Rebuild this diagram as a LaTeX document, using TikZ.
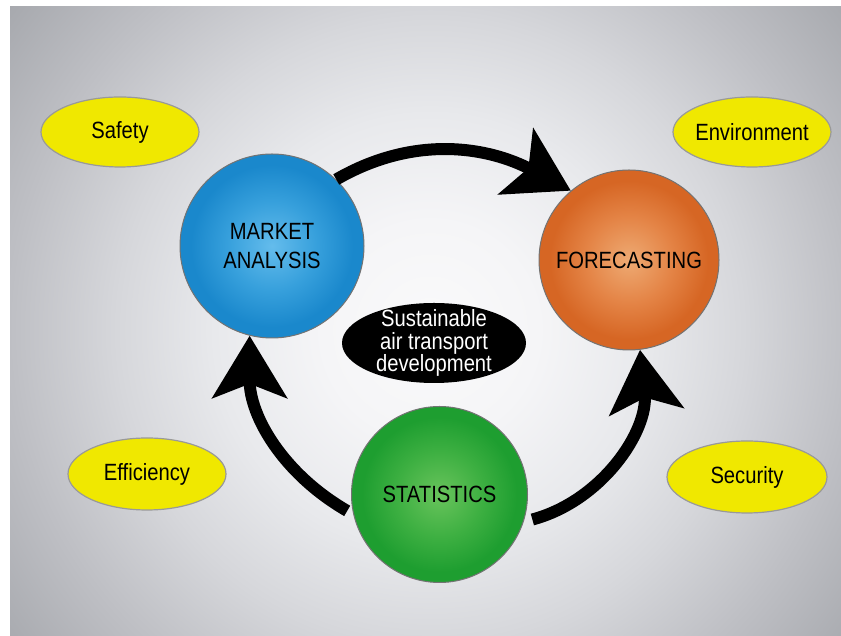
\documentclass[tikz,border=0pt]{standalone}
\usepackage{fontspec}
\setmainfont{Liberation Sans}[FakeStretch=0.86]
\usepackage{tikz}
\usetikzlibrary{shapes.geometric,arrows.meta,backgrounds}
\definecolor{bgA}{RGB}{250,250,251}
\definecolor{bgB}{RGB}{245,245,247}
\definecolor{bgC}{RGB}{232,233,236}
\definecolor{bgD}{RGB}{214,215,219}
\definecolor{bgE}{RGB}{190,191,196}
\definecolor{bgF}{RGB}{165,167,172}
\definecolor{blueIn}{RGB}{100,188,236}
\definecolor{blueMid}{RGB}{55,160,220}
\definecolor{blueOut}{RGB}{26,136,204}
\definecolor{orangeIn}{RGB}{238,170,115}
\definecolor{orangeMid}{RGB}{228,132,70}
\definecolor{orangeOut}{RGB}{214,102,36}
\definecolor{greenIn}{RGB}{105,196,92}
\definecolor{greenMid}{RGB}{62,176,66}
\definecolor{greenOut}{RGB}{30,158,48}
\definecolor{tagyellow}{RGB}{240,232,0}
\pgfdeclareradialshading{backdrop}{\pgfpointorigin}{color(0bp)=(bgA); color(5bp)=(bgB); color(10bp)=(bgC); color(14.5bp)=(bgD); color(19.5bp)=(bgE); color(25bp)=(bgF); color(50bp)=(bgF)}
\pgfdeclareradialshading{bluebulb}{\pgfpointorigin}{color(0bp)=(blueIn); color(12bp)=(blueMid); color(22bp)=(blueOut); color(50bp)=(blueOut)}
\pgfdeclareradialshading{orangebulb}{\pgfpointorigin}{color(0bp)=(orangeIn); color(12bp)=(orangeMid); color(22bp)=(orangeOut); color(50bp)=(orangeOut)}
\pgfdeclareradialshading{greenbulb}{\pgfpointorigin}{color(0bp)=(greenIn); color(12bp)=(greenMid); color(22bp)=(greenOut); color(50bp)=(greenOut)}
\newcommand{\capfont}{\fontsize{23.5}{29}\selectfont}

\begin{document}
\begin{tikzpicture}[x=1pt,y=1pt,
        ball/.style={circle,draw=black!55,line width=1pt,minimum size=#1,inner sep=0pt,align=center,font=\capfont},
        tag/.style={ellipse,draw=black!40,line width=1.2pt,fill=tagyellow,minimum width=158pt,minimum height=70pt,inner sep=0pt,inner xsep=-5pt,font=\capfont},
        flow/.style={line width=12pt,-{Stealth[length=62pt,width=74pt,inset=14pt]}}
    ]
    \useasboundingbox (0,0) rectangle (841,636);

    \node[ball=184pt,shading=bluebulb]   (ma) at (272,390)     {MARKET\\ANALYSIS};
    \node[ball=180pt,shading=orangebulb] (fc) at (629,376)     {FORECASTING};
    \node[ball=176pt,shading=greenbulb]  (st) at (439.5,141.5) {STATISTICS};
    \node[ellipse,fill=black,minimum width=184pt,minimum height=80pt,inner xsep=0pt,inner ysep=-14pt,
          text=white,align=center,font=\fontsize{23.5}{22.5}\selectfont] (core) at (434,293)
          {Sustainable\\air transport\\development};

    \node[tag] (saf) at (120,504) {Safety};
    \node[tag] (env) at (752,504) {Environment};
    \node[tag,minimum height=72pt] (eff) at (147,162) {Efficiency};
    \node[tag,minimum width=160pt,minimum height=72pt] (sec) at (747,159) {Security};

    \draw[flow] (ma.46) to[out=30,in=152] (fc.130);
    \draw[flow,shorten <=7pt] (st.193) to[out=150,in=270] (ma.256);
    \draw[flow,shorten <=9pt] (st.342) to[out=15,in=276] (fc.277);

    % Background
    \begin{scope}[on background layer]
        \fill[white] (0,0) rectangle (841,636);
        \clip (10,0) rectangle (841,629);
        \shade[shading=backdrop] (430,306) circle (540);
    \end{scope}
\end{tikzpicture}
\end{document}
